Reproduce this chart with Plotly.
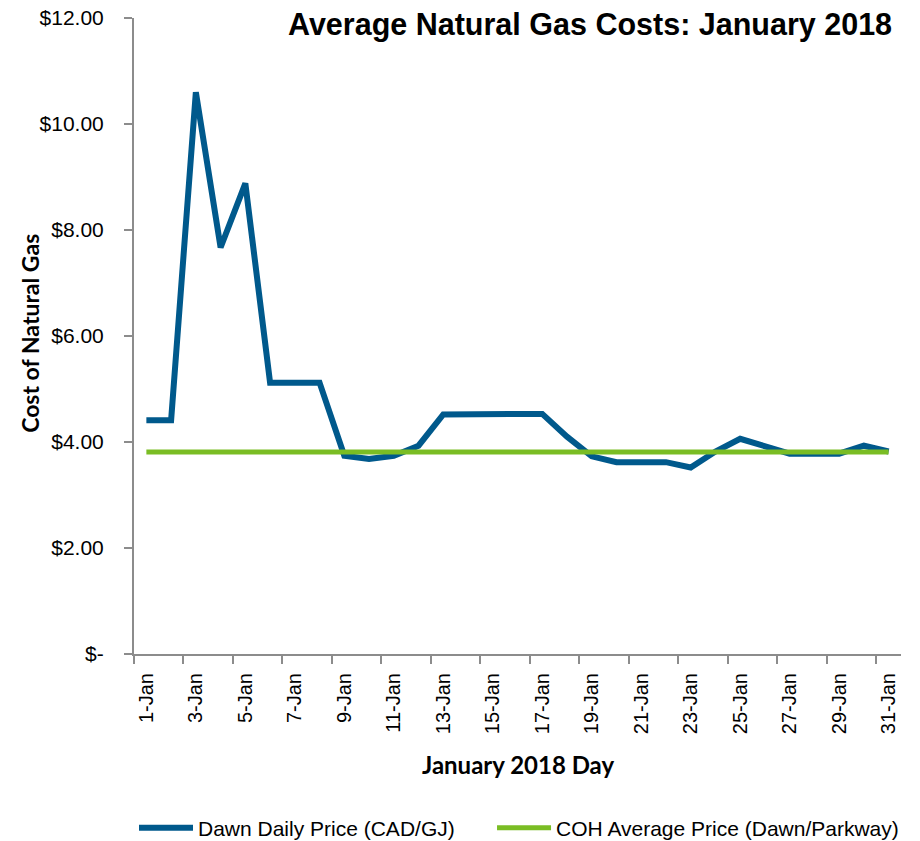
import plotly.graph_objects as go

day_labels = [f"{d}-Jan" for d in range(1, 32)]
days = list(range(1, 32))

dawn_price = [4.41, 4.41, 10.60, 7.67, 8.88, 5.12, 5.12, 5.12, 3.74, 3.68,
              3.74, 3.93, 4.52, 4.52, 4.52, 4.52, 4.53, 4.10, 3.73, 3.62,
              3.62, 3.62, 3.52, 3.82, 4.06, 3.92, 3.78, 3.78, 3.78, 3.93,
              3.82]
coh_avg = 3.81

y_ticks = [0, 2, 4, 6, 8, 10, 12]
y_tick_text = ["$-", "$2.00", "$4.00", "$6.00", "$8.00", "$10.00", "$12.00"]

TEXT_FONT = "Liberation Sans, Arial, sans-serif"
BOLD_TITLE = "Lato, Carlito, Calibri, sans-serif"
AXIS_GREY = "#8c8c8c"

fig = go.Figure()

fig.add_trace(go.Scatter(
    x=days,
    y=dawn_price,
    mode="lines",
    name="Dawn Daily Price (CAD/GJ)",
    legend="legend",
    line=dict(color="#00598c", width=6)))

fig.add_trace(go.Scatter(
    x=days,
    y=[coh_avg] * len(days),
    mode="lines",
    name="COH Average Price (Dawn/Parkway)",
    legend="legend2",
    line=dict(color="#7abd24", width=5)))

# labels on odd days, tick marks on the category boundaries in between
fig.update_xaxes(
    range=[0.5, 31.5],
    tickmode="array",
    tickvals=days[::2],
    ticktext=day_labels[::2],
    tickangle=-90,
    ticks="",
    ticklabelstandoff=9,
    showline=True,
    linecolor=AXIS_GREY,
    linewidth=2,
    showgrid=False,
    zeroline=False,
    tickfont=dict(family=TEXT_FONT, size=20, color="#000000"),
    minor=dict(
        tickmode="array",
        tickvals=[d - 0.5 for d in days[::2]],
        ticks="outside",
        ticklen=8,
        tickwidth=2,
        tickcolor=AXIS_GREY,
        showgrid=False))

fig.update_yaxes(
    range=[0, 12],
    tickmode="array",
    tickvals=y_ticks,
    ticktext=y_tick_text,
    ticks="outside",
    ticklen=8,
    tickwidth=2,
    tickcolor=AXIS_GREY,
    ticklabelstandoff=16,
    showline=True,
    linecolor=AXIS_GREY,
    linewidth=2,
    showgrid=False,
    zeroline=False,
    tickfont=dict(family=TEXT_FONT, size=21, color="#000000"))

fig.add_annotation(
    text="<b>Average Natural Gas Costs: January 2018</b>",
    xref="paper", yref="paper",
    x=0.991, y=0.989,
    xanchor="right", yanchor="middle",
    showarrow=False,
    font=dict(family=TEXT_FONT, size=30.5, color="#000000"))

fig.add_annotation(
    text="<b>Cost of Natural Gas</b>",
    xref="paper", yref="paper",
    x=-0.1356, y=0.505,
    xanchor="center", yanchor="middle",
    textangle=-90,
    showarrow=False,
    font=dict(family=BOLD_TITLE, size=23, color="#000000"))

fig.add_annotation(
    text="<b>January 2018 Day</b>",
    xref="paper", yref="paper",
    x=0.5, y=-0.1745,
    xanchor="center", yanchor="middle",
    showarrow=False,
    font=dict(family=BOLD_TITLE, size=24, color="#000000"))

legend_style = dict(
    orientation="h",
    yanchor="middle",
    xanchor="left",
    y=-0.2736,
    itemwidth=54,
    font=dict(family=TEXT_FONT, size=21, color="#000000"),
    bgcolor="rgba(0,0,0,0)")

fig.update_layout(
    width=920,
    height=841,
    margin=dict(l=134, r=19, t=18, b=187, autoexpand=False),
    paper_bgcolor="white",
    plot_bgcolor="white",
    showlegend=True,
    legend=dict(x=0.0, **legend_style),
    legend2=dict(x=0.4668, **legend_style))

# drop the default 8px page margin so the figure fills the window
fig.write_html(
    "out.html",
    config={"displayModeBar": False},
    post_script="document.body.style.margin = '0';")
